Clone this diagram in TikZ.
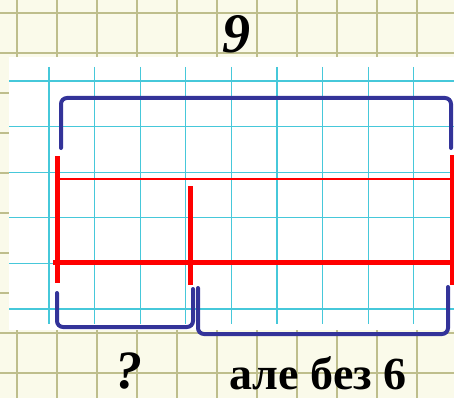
\documentclass[tikz,border=0pt]{standalone}
\usepackage{fontspec}
\setmainfont{Liberation Serif}
\usepackage{xcolor}
\usetikzlibrary{positioning,calc}

\definecolor{paper}{RGB}{250,250,234}
\definecolor{papergrid}{RGB}{190,190,140}
\definecolor{cellgrid}{RGB}{70,200,218}
\definecolor{bracecol}{RGB}{51,51,153}
\definecolor{segred}{RGB}{255,0,0}

\begin{document}
\begin{tikzpicture}[x=1pt, y=-1pt,
    brace/.style={draw=bracecol, line width=4pt, rounded corners=6pt, line cap=round},
    seg/.style={draw=segred, line width=5pt},
    thinseg/.style={draw=segred, line width=2pt},
    label/.style={inner sep=0pt, font=\bfseries}]
    \useasboundingbox (0,0) rectangle (454,398);

    % paper background
    \fill[paper] (0,0) rectangle (454,398);
    \foreach \x in {17,57,...,457}
        \draw[papergrid, line width=1.4pt] (\x,0) -- (\x,398);
    \foreach \y in {13,53,...,413}
        \draw[papergrid, line width=1.4pt] (0,\y) -- (454,\y);

    % white sheet with cells
    \fill[white] (9,57) rectangle (454,330);
    \foreach \i in {0,...,8}
        \draw[cellgrid, line width=1.3pt] ({49+45.6*\i},67) -- ({49+45.6*\i},324);
    \foreach \j in {0,...,5}
        \draw[cellgrid, line width=1.3pt] (9,{81+45.6*\j}) -- (454,{81+45.6*\j});

    % segments
    \draw[thinseg] (58,179) -- (452,179);
    \draw[seg] (53,262) -- (452,262);
    \draw[seg] (57,156) -- (57,283);
    \draw[seg] (190,186) -- (190,285);
    \draw[seg] (452,155) -- (452,285);

    % braces
    \draw[brace] (61,148) -- (61,98) -- (451,98) -- (451,148);
    \draw[brace] (57,293) -- (57,327) -- (193,327) -- (193,289);
    \draw[brace] (198,288) -- (198,334) -- (448,334) -- (448,287);

    % labels
    \node[label, font=\bfseries\itshape\fontsize{56}{56}\selectfont] (whole) at (236,34) {9};
    \node[label, font=\bfseries\itshape\fontsize{54}{54}\selectfont, anchor=base] (part) at (129,388) {?};
    \node[label, font=\bfseries\fontsize{46}{46}\selectfont, anchor=base] (rest) at (318,389) {але без 6};
\end{tikzpicture}
\end{document}
